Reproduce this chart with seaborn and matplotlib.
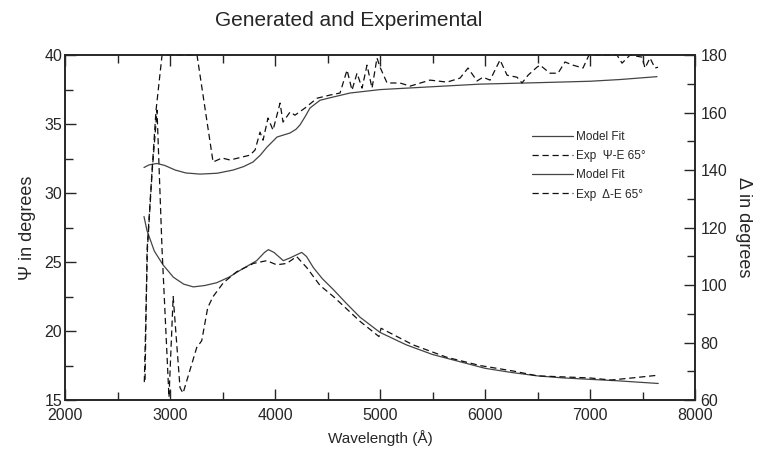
import matplotlib
matplotlib.use("Agg")
import matplotlib.pyplot as plt
import numpy as np
import pandas as pd
import seaborn as sns
from matplotlib.ticker import MultipleLocator

# Psi (left axis)
psi_fit_wl = [2752, 2780, 2850, 2933, 3032, 3130, 3222, 3330, 3444, 3560, 3667, 3825, 3900,
              3937, 3990, 4079, 4143, 4254, 4300, 4365, 4450, 4556, 4680, 4810, 5000, 5250,
              5500, 5750, 6000, 6250, 6500, 6750, 7000, 7250, 7450, 7650]
psi_fit = [28.3, 27.3, 25.8, 24.8, 23.9, 23.4, 23.2, 23.3, 23.5, 23.9, 24.4, 25.1, 25.7,
           25.9, 25.7, 25.1, 25.3, 25.7, 25.4, 24.6, 23.8, 23.0, 22.0, 21.0, 19.9, 19.0,
           18.3, 17.8, 17.3, 17.0, 16.75, 16.6, 16.5, 16.4, 16.3, 16.2]

psi_exp_wl = [2755, 2785, 2830, 2876, 2924, 2990, 3030, 3095, 3124, 3254, 3302, 3359, 3410,
              3508, 3635, 3794, 3921, 4016, 4111, 4206, 4302, 4429, 4556, 4810, 4990, 5010,
              5314, 5635, 5952, 6270, 6500, 7000, 7200, 7400, 7650]
psi_exp = [16.3, 26.0, 31.6, 36.0, 25.9, 15.2, 22.5, 15.9, 15.5, 18.8, 19.3, 21.7, 22.5,
           23.5, 24.3, 24.9, 25.1, 24.8, 24.9, 25.4, 24.6, 23.3, 22.5, 20.7, 19.6, 20.2,
           19.0, 18.1, 17.5, 17.1, 16.75, 16.6, 16.45, 16.6, 16.8]

# Delta (right axis), values past the top are shown pinned at 180
delta_fit_wl = [2752, 2800, 2876, 2950, 3050, 3150, 3286, 3450, 3600, 3700, 3790, 3860, 3924,
                4019, 4143, 4200, 4238, 4290, 4333, 4429, 4552, 4714, 5000, 5500, 5952, 6500,
                7000, 7286, 7638]
delta_fit = [140.9, 141.8, 142.3, 141.6, 140.0, 139.0, 138.6, 138.9, 140.0, 141.2, 142.8,
             145.2, 148.0, 151.5, 152.9, 154.2, 155.7, 158.8, 161.6, 164.3, 165.4, 166.8,
             168.0, 169.0, 169.9, 170.4, 170.9, 171.5, 172.5]

delta_exp_wl = [2762, 2781, 2829, 2867, 2924, 3000, 3100, 3257, 3410, 3495, 3571, 3762, 3810,
                3857, 3886, 3933, 3981, 4048, 4076, 4143, 4190, 4286, 4400, 4524, 4619, 4686,
                4733, 4781, 4829, 4876, 4924, 4971, 5000, 5067, 5190, 5286, 5476, 5638, 5762,
                5838, 5924, 5981, 6048, 6143, 6210, 6305, 6352, 6410, 6495, 6524, 6619, 6695,
                6762, 6838, 6933, 6990, 7100, 7257, 7305, 7381, 7495, 7524, 7571, 7619, 7648]
delta_exp = [67.0, 112.0, 140.0, 160.9, 180.0, 180.0, 180.0, 180.0, 142.8, 144.2, 143.5, 145.2,
             147.0, 153.2, 150.4, 158.1, 153.9, 163.3, 156.7, 160.2, 159.1, 161.6, 165.0,
             166.1, 166.8, 174.8, 167.8, 173.7, 168.5, 176.5, 168.5, 179.0, 175.8, 170.3,
             170.3, 169.2, 171.3, 170.6, 172.0, 175.5, 171.0, 172.3, 171.3, 178.3, 173.0,
             172.3, 170.3, 173.0, 175.8, 176.5, 173.7, 173.7, 177.6, 176.5, 175.5, 180.0,
             180.0, 180.0, 177.2, 180.0, 179.3, 175.5, 179.0, 175.5, 175.8]

sns.set_style("ticks")
plt.rcParams["font.family"] = ["Liberation Sans Narrow", "Liberation Sans", "DejaVu Sans"]

fig = plt.figure(figsize=(7.58, 4.63), dpi=100)
ax = fig.add_axes([0.0858, 0.136, 0.8311, 0.745])
ax2 = ax.twinx()

dash = (5, 3)
sns.lineplot(x=psi_fit_wl, y=psi_fit, ax=ax, color="#444444", lw=0.9,
             estimator=None, sort=False, label="Model Fit", legend=False)
sns.lineplot(x=psi_exp_wl, y=psi_exp, ax=ax, color="#111111", lw=0.9,
             estimator=None, sort=False, label="Exp  \u03a8-E 65\u00b0", legend=False)
ax.lines[1].set_dashes(dash)
sns.lineplot(x=delta_fit_wl, y=delta_fit, ax=ax2, color="#444444", lw=0.9,
             estimator=None, sort=False, label="Model Fit", legend=False)
sns.lineplot(x=delta_exp_wl, y=delta_exp, ax=ax2, color="#111111", lw=0.9,
             estimator=None, sort=False, label="Exp  \u0394-E 65\u00b0", legend=False,
             clip_on=False)
ax2.lines[1].set_dashes(dash)

ax.set_xlim(2000, 8000)
ax.set_ylim(15, 40)
ax2.set_ylim(60, 180)

ax.xaxis.set_major_locator(MultipleLocator(1000))
ax.xaxis.set_minor_locator(MultipleLocator(500))
ax.yaxis.set_major_locator(MultipleLocator(5))
ax.yaxis.set_minor_locator(MultipleLocator(2.5))
ax2.yaxis.set_major_locator(MultipleLocator(20))
ax2.yaxis.set_minor_locator(MultipleLocator(10))

ax.tick_params(axis="x", which="both", direction="in", top=True, labelsize=11.5, pad=6)
ax.tick_params(axis="y", which="both", direction="in", labelsize=11.5, pad=2)
ax2.tick_params(axis="y", which="both", direction="in", labelsize=11.5, pad=4)
for a in (ax, ax2):
    a.tick_params(which="major", length=8, width=1)
    a.tick_params(which="minor", length=6, width=1)
    for s in a.spines.values():
        s.set_linewidth(1.2)

ax.set_xlabel("Wavelength (\u00c5)", fontsize=11, labelpad=5)
ax.set_ylabel("\u03a8 in degrees", fontsize=13, labelpad=6)
ax2.set_ylabel("\u0394 in degrees", fontsize=13, rotation=270, labelpad=18)
fig.text(0.46, 0.955, "Generated and Experimental", ha="center", va="center", fontsize=15)

handles = ax.get_lines() + ax2.get_lines()
labels = [h.get_label() for h in handles]
ax2.legend(handles, labels, loc="upper left", bbox_to_anchor=(0.725, 0.81), frameon=False,
           fontsize=8.5, handlelength=3.4, handletextpad=0.3, labelspacing=0.6)

fig.savefig("out.png", dpi=100)
